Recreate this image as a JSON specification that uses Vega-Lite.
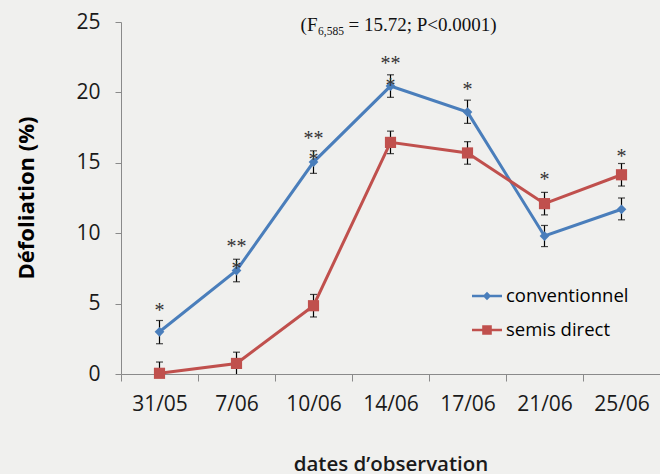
{
  "$schema": "https://vega.github.io/schema/vega-lite/v6.json",
  "width": 539,
  "height": 352,
  "autosize": {"type": "none"},
  "padding": {"left": 121, "top": 22, "right": 0, "bottom": 100},
  "background": "#f0f0ee",
  "config": {"view": {"stroke": null}, "font": "Open Sans"},
  "datasets": {
    "pts": [
      {"date": "31/05", "series": "conventionnel", "value": 3.0, "low": 2.15, "high": 3.8},
      {"date": "7/06", "series": "conventionnel", "value": 7.35, "low": 6.55, "high": 8.15},
      {"date": "10/06", "series": "conventionnel", "value": 15.05, "low": 14.25, "high": 15.85},
      {"date": "14/06", "series": "conventionnel", "value": 20.45, "low": 19.65, "high": 21.25},
      {"date": "17/06", "series": "conventionnel", "value": 18.6, "low": 17.8, "high": 19.45},
      {"date": "21/06", "series": "conventionnel", "value": 9.8, "low": 9.05, "high": 10.55},
      {"date": "25/06", "series": "conventionnel", "value": 11.7, "low": 10.95, "high": 12.5},
      {"date": "31/05", "series": "semis direct", "value": 0.05, "low": 0, "high": 0.85},
      {"date": "7/06", "series": "semis direct", "value": 0.75, "low": 0, "high": 1.55},
      {"date": "10/06", "series": "semis direct", "value": 4.85, "low": 4.05, "high": 5.65},
      {"date": "14/06", "series": "semis direct", "value": 16.45, "low": 15.65, "high": 17.25},
      {"date": "17/06", "series": "semis direct", "value": 15.7, "low": 14.9, "high": 16.5},
      {"date": "21/06", "series": "semis direct", "value": 12.1, "low": 11.3, "high": 12.9},
      {"date": "25/06", "series": "semis direct", "value": 14.15, "low": 13.35, "high": 14.95}
    ],
    "stars": [
      {"date": "31/05", "label": "*", "y": 4.08},
      {"date": "7/06", "label": "**", "y": 8.61},
      {"date": "7/06", "label": "*", "y": 7.01},
      {"date": "10/06", "label": "**", "y": 16.28},
      {"date": "10/06", "label": "*", "y": 14.74},
      {"date": "14/06", "label": "**", "y": 21.61},
      {"date": "14/06", "label": "*", "y": 20.06},
      {"date": "17/06", "label": "*", "y": 19.71},
      {"date": "21/06", "label": "*", "y": 13.37},
      {"date": "25/06", "label": "*", "y": 14.98}
    ],
    "note": [
      {"date": "14/06", "y": 24.34, "a": "(F", "b": "6,585", "c": "= 15.72; P<0.0001)"}
    ]
  },
  "encoding": {
    "x": {
      "field": "date",
      "type": "ordinal",
      "sort": ["31/05", "7/06", "10/06", "14/06", "17/06", "21/06", "25/06"],
      "scale": {"type": "band", "paddingInner": 0, "paddingOuter": 0},
      "axis": {
        "title": "dates d’observation",
        "tickBand": "extent",
        "labelAngle": 0,
        "labelFont": "Open Sans",
        "labelFontSize": 21,
        "labelColor": "#1a1a1a",
        "labelPadding": 12,
        "tickSize": 7,
        "tickColor": "#8a8a8a",
        "domainColor": "#8a8a8a",
        "grid": false,
        "titleFont": "Open Sans",
        "titleFontSize": 20.5,
        "titleFontWeight": 600,
        "titleColor": "#1a1a1a",
        "titleX": 269.5,
        "titleY": 96,
        "titleAlign": "center",
        "titleBaseline": "alphabetic"
      }
    }
  },
  "layer": [
    {
      "data": {"name": "pts"},
      "mark": {"type": "line", "strokeWidth": 3},
      "encoding": {
        "y": {
          "field": "value",
          "type": "quantitative",
          "scale": {"domain": [0, 25], "nice": false},
          "axis": {
            "title": "Défoliation (%)",
            "values": [0, 5, 10, 15, 20, 25],
            "grid": false,
            "tickSize": 6,
            "tickColor": "#8a8a8a",
            "domainColor": "#8a8a8a",
            "labelFont": "Open Sans",
            "labelFontSize": 21,
            "labelColor": "#1a1a1a",
            "labelPadding": 15,
            "titleFont": "Open Sans",
            "titleFontSize": 22,
            "titleFontWeight": "bold",
            "titleColor": "#000000",
            "titleAngle": -90,
            "titleX": -87.7,
            "titleY": 175.5,
            "titleAlign": "center",
            "titleBaseline": "alphabetic"
          }
        },
        "color": {
          "field": "series",
          "type": "nominal",
          "scale": {"domain": ["conventionnel", "semis direct"], "range": ["#4A7EBB", "#C0504D"]},
          "legend": {
            "orient": "none",
            "legendX": 356,
            "legendY": 264,
            "title": null,
            "padding": 0,
            "labelFont": "Open Sans",
            "labelFontSize": 18.5,
            "labelColor": "#000000",
            "symbolSize": 400,
            "rowPadding": 14,
            "labelOffset": 9,
            "encode": {
              "symbols": {
                "update": {
                  "shape": {"signal": "datum.value === 'conventionnel' ? 'M-1.5,-0.12H1.5V0.12H-1.5Z M-0.42,0L0,-0.42L0.42,0L0,0.42Z' : 'M-1.5,-0.12H1.5V0.12H-1.5Z M-0.48,-0.48H0.48V0.48H-0.48Z'"},
                  "fill": {"signal": "datum.value === 'conventionnel' ? '#5B8FCB' : '#D05A57'"},
                  "size": {"value": 400},
                  "strokeWidth": {"value": 0},
                  "opacity": {"value": 1}
                }
              }
            }
          }
        }
      }
    },
    {
      "data": {"name": "pts"},
      "mark": {"type": "rule", "color": "#000000", "strokeWidth": 1.2},
      "encoding": {
        "y": {"field": "low", "type": "quantitative"},
        "y2": {"field": "high"}
      }
    },
    {
      "data": {"name": "pts"},
      "mark": {"type": "tick", "color": "#000000", "size": 7, "thickness": 1.2, "orient": "horizontal"},
      "encoding": {
        "y": {"field": "high", "type": "quantitative"}
      }
    },
    {
      "data": {"name": "pts"},
      "transform": [{"filter": "datum.low > 0.05"}],
      "mark": {"type": "tick", "color": "#000000", "size": 7, "thickness": 1.2, "orient": "horizontal"},
      "encoding": {
        "y": {"field": "low", "type": "quantitative"}
      }
    },
    {
      "data": {"name": "pts"},
      "transform": [{"filter": "datum.series === 'conventionnel'"}],
      "mark": {"type": "point", "filled": true, "opacity": 1, "strokeWidth": 0, "shape": "diamond", "size": 95},
      "encoding": {
        "y": {"field": "value", "type": "quantitative"},
        "color": {"field": "series", "type": "nominal"}
      }
    },
    {
      "data": {"name": "pts"},
      "transform": [{"filter": "datum.series === 'semis direct'"}],
      "mark": {"type": "point", "filled": true, "opacity": 1, "strokeWidth": 0, "shape": "square", "size": 125},
      "encoding": {
        "y": {"field": "value", "type": "quantitative"},
        "color": {"field": "series", "type": "nominal"}
      }
    },
    {
      "data": {"name": "stars"},
      "mark": {"type": "text", "font": "Liberation Serif", "fontSize": 20, "color": "#333333", "baseline": "alphabetic", "align": "center"},
      "encoding": {
        "y": {"field": "y", "type": "quantitative"},
        "text": {"field": "label"}
      }
    },
    {
      "data": {"name": "note"},
      "mark": {"type": "text", "font": "Liberation Serif", "fontSize": 19, "color": "#111111", "baseline": "alphabetic", "align": "right", "dx": -73},
      "encoding": {
        "y": {"field": "y", "type": "quantitative"},
        "text": {"field": "a"}
      }
    },
    {
      "data": {"name": "note"},
      "mark": {"type": "text", "font": "Liberation Serif", "fontSize": 11.5, "color": "#111111", "baseline": "alphabetic", "align": "left", "dx": -72.5, "dy": 3.5},
      "encoding": {
        "y": {"field": "y", "type": "quantitative"},
        "text": {"field": "b"}
      }
    },
    {
      "data": {"name": "note"},
      "mark": {"type": "text", "font": "Liberation Serif", "fontSize": 19, "color": "#111111", "baseline": "alphabetic", "align": "left", "dx": -42},
      "encoding": {
        "y": {"field": "y", "type": "quantitative"},
        "text": {"field": "c"}
      }
    }
  ]
}
